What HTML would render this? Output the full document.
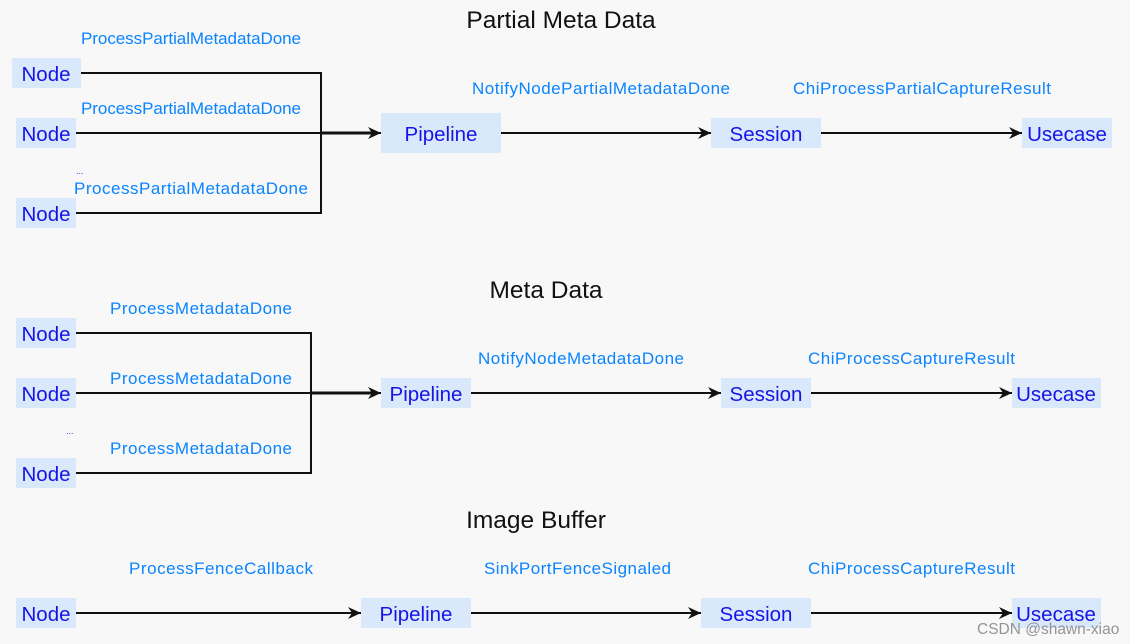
<!DOCTYPE html>
<html><head><meta charset="utf-8"><style>
html,body{margin:0;padding:0;background:#f8f8f8;}
svg{display:block;}
.b{fill:#dae8fc;}
.n{font-family:"Liberation Sans",sans-serif;font-size:20.5px;fill:#1515e6;text-anchor:middle;}
.l{font-family:"Liberation Sans",sans-serif;font-size:17px;fill:#0a84ff;}
.t{font-family:"Liberation Sans",sans-serif;font-size:24.5px;fill:#111;text-anchor:middle;}
.ln{stroke:#111;stroke-width:2;fill:none;}
</style></head><body>
<svg width="1130" height="644" viewBox="0 0 1130 644" xmlns="http://www.w3.org/2000/svg">
<defs><marker id="a" markerWidth="14" markerHeight="14" refX="13" refY="6" orient="auto" markerUnits="userSpaceOnUse"><path d="M0,0 L13,6 L0,12 L4,6 z" fill="#111"/></marker></defs>

<!-- Section 1 -->
<text class="t" x="561" y="28">Partial Meta Data</text>
<rect class="b" x="12" y="58" width="69" height="30"/><text class="n" x="46" y="81">Node</text>
<rect class="b" x="16" y="118" width="60" height="30"/><text class="n" x="46" y="141">Node</text>
<rect class="b" x="16" y="198" width="60" height="30"/><text class="n" x="46" y="221">Node</text>
<path class="ln" d="M81,73 H321 V213 H76"/>
<path class="ln" d="M76,133 H381" marker-end="url(#a)"/>
<path class="ln" d="M321,133 H372" style="stroke-width:3"/>
<text class="l" x="81" y="44" textLength="220">ProcessPartialMetadataDone</text>
<text class="l" x="81" y="114" textLength="220">ProcessPartialMetadataDone</text>
<text class="l" x="76" y="174" style="font-size:9px;fill:#3030ff">...</text>
<text class="l" x="74" y="194" textLength="234">ProcessPartialMetadataDone</text>
<rect class="b" x="381" y="113" width="120" height="40"/><text class="n" x="441" y="141">Pipeline</text>
<path class="ln" d="M501,133 H711" marker-end="url(#a)"/>
<text class="l" x="472" y="94" textLength="258">NotifyNodePartialMetadataDone</text>
<rect class="b" x="711" y="118" width="110" height="30"/><text class="n" x="766" y="141">Session</text>
<path class="ln" d="M821,133 H1022" marker-end="url(#a)"/>
<text class="l" x="793" y="94" textLength="258">ChiProcessPartialCaptureResult</text>
<rect class="b" x="1022" y="118" width="90" height="30"/><text class="n" x="1067" y="141">Usecase</text>

<!-- Section 2 -->
<text class="t" x="546" y="298">Meta Data</text>
<rect class="b" x="16" y="318" width="60" height="30"/><text class="n" x="46" y="341">Node</text>
<rect class="b" x="16" y="378" width="60" height="30"/><text class="n" x="46" y="401">Node</text>
<rect class="b" x="16" y="458" width="60" height="30"/><text class="n" x="46" y="481">Node</text>
<path class="ln" d="M76,333 H311 V473 H76"/>
<path class="ln" d="M76,393 H381" marker-end="url(#a)"/>
<path class="ln" d="M311,393 H372" style="stroke-width:3"/>
<text class="l" x="110" y="314" textLength="182">ProcessMetadataDone</text>
<text class="l" x="110" y="384" textLength="182">ProcessMetadataDone</text>
<text class="l" x="66" y="434" style="font-size:9px;fill:#3030ff">...</text>
<text class="l" x="110" y="454" textLength="182">ProcessMetadataDone</text>
<rect class="b" x="381" y="378" width="90" height="30"/><text class="n" x="426" y="401">Pipeline</text>
<path class="ln" d="M471,393 H721" marker-end="url(#a)"/>
<text class="l" x="478" y="364" textLength="206">NotifyNodeMetadataDone</text>
<rect class="b" x="721" y="378" width="90" height="30"/><text class="n" x="766" y="401">Session</text>
<path class="ln" d="M811,393 H1012" marker-end="url(#a)"/>
<text class="l" x="808" y="364" textLength="207">ChiProcessCaptureResult</text>
<rect class="b" x="1012" y="378" width="89" height="30"/><text class="n" x="1056" y="401">Usecase</text>

<!-- Section 3 -->
<text class="t" x="536" y="528">Image Buffer</text>
<rect class="b" x="16" y="598" width="60" height="30"/><text class="n" x="46" y="621">Node</text>
<path class="ln" d="M76,613 H361" marker-end="url(#a)"/>
<text class="l" x="129" y="574" textLength="184">ProcessFenceCallback</text>
<rect class="b" x="361" y="598" width="110" height="30"/><text class="n" x="416" y="621">Pipeline</text>
<path class="ln" d="M471,613 H701" marker-end="url(#a)"/>
<text class="l" x="484" y="574" textLength="187">SinkPortFenceSignaled</text>
<rect class="b" x="701" y="598" width="110" height="30"/><text class="n" x="756" y="621">Session</text>
<path class="ln" d="M811,613 H1012" marker-end="url(#a)"/>
<text class="l" x="808" y="574" textLength="207">ChiProcessCaptureResult</text>
<rect class="b" x="1012" y="598" width="89" height="30"/><text class="n" x="1056" y="621">Usecase</text>
<text x="977" y="634" style="font-family:'Liberation Sans',sans-serif;font-size:15.5px;fill:#8a8a8a;opacity:0.9">CSDN @shawn-xiao</text>
</svg>
</body></html>
